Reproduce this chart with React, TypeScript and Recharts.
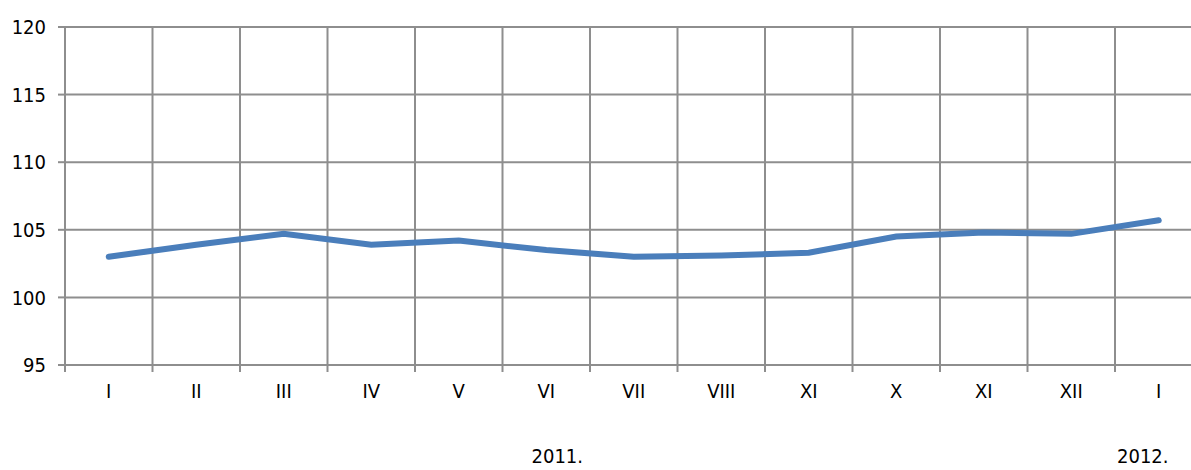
import { LineChart, Line, XAxis, YAxis, CartesianGrid } from "recharts";

const months = ["I", "II", "III", "IV", "V", "VI", "VII", "VIII", "XI", "X", "XI", "XII", "I"];
const values = [103.0, 103.9, 104.7, 103.9, 104.2, 103.5, 103.0, 103.1, 103.3, 104.5, 104.8, 104.7, 105.7];
const yearLabels: { [index: number]: string } = { 5: "2011.", 12: "2012." };
const yTicks = [95, 100, 105, 110, 115, 120];
const gridTicks = Array.from({ length: months.length + 1 }, (_, i) => i);

// each month sits in the middle of its cell
const data = months.map((m, i) => ({ pos: i + 0.5, month: m, value: values[i] }));
const monthTicks = data.map((d) => d.pos);

const font = "'DejaVu Sans Condensed', 'DejaVu Sans', sans-serif";
const gridColor = "#8e8e8e";

const NoLabel = () => <g />;

const MonthTick = (props: any) => {
  const { x, y, index } = props;
  const year = yearLabels[index];
  const dx = index === 5 ? 11 : -16;
  return (
    <g>
      <text x={x} y={y} dy="0.71em" textAnchor="middle" fill="#000" fontSize={20} fontFamily={font}>
        {months[index]}
      </text>
      {year && (
        <text x={x + dx} y={y + 65} dy="0.71em" textAnchor="middle" fill="#000" fontSize={20} fontFamily={font}>
          {year}
        </text>
      )}
    </g>
  );
};

export default function App() {
  return (
    <div style={{ position: "absolute", left: 0, top: 0, width: 1191, height: 470, overflow: "hidden", background: "#fff" }}>
      <LineChart width={1210} height={470} data={data} margin={{ top: 27, right: 7.5, bottom: 0, left: 0 }}>
        <XAxis
          xAxisId="a"
          type="number"
          dataKey="pos"
          domain={[0, months.length]}
          ticks={gridTicks}
          interval={0}
          tick={<NoLabel />}
          tickSize={7}
          axisLine={{ stroke: gridColor, strokeWidth: 2 }}
          tickLine={{ stroke: gridColor, strokeWidth: 2 }}
          height={1}
        />
        <CartesianGrid xAxisId="a" stroke={gridColor} strokeWidth={2} />
        <XAxis
          xAxisId="b"
          type="number"
          dataKey="pos"
          domain={[0, months.length]}
          ticks={monthTicks}
          axisLine={false}
          tickLine={false}
          tickSize={0}
          tickMargin={18}
          interval={0}
          tick={<MonthTick />}
          height={104}
        />
        <YAxis
          domain={[95, 120]}
          ticks={yTicks}
          width={65}
          tickSize={7}
          tickMargin={12}
          axisLine={{ stroke: gridColor, strokeWidth: 2 }}
          tickLine={{ stroke: gridColor, strokeWidth: 2 }}
          tick={{ fill: "#000", fontSize: 20, fontFamily: font }}
        />
        <Line
          xAxisId="b"
          dataKey="value"
          stroke="#4a7ebb"
          strokeWidth={6}
          strokeLinecap="round"
          dot={false}
          isAnimationActive={false}
        />
      </LineChart>
    </div>
  );
}
